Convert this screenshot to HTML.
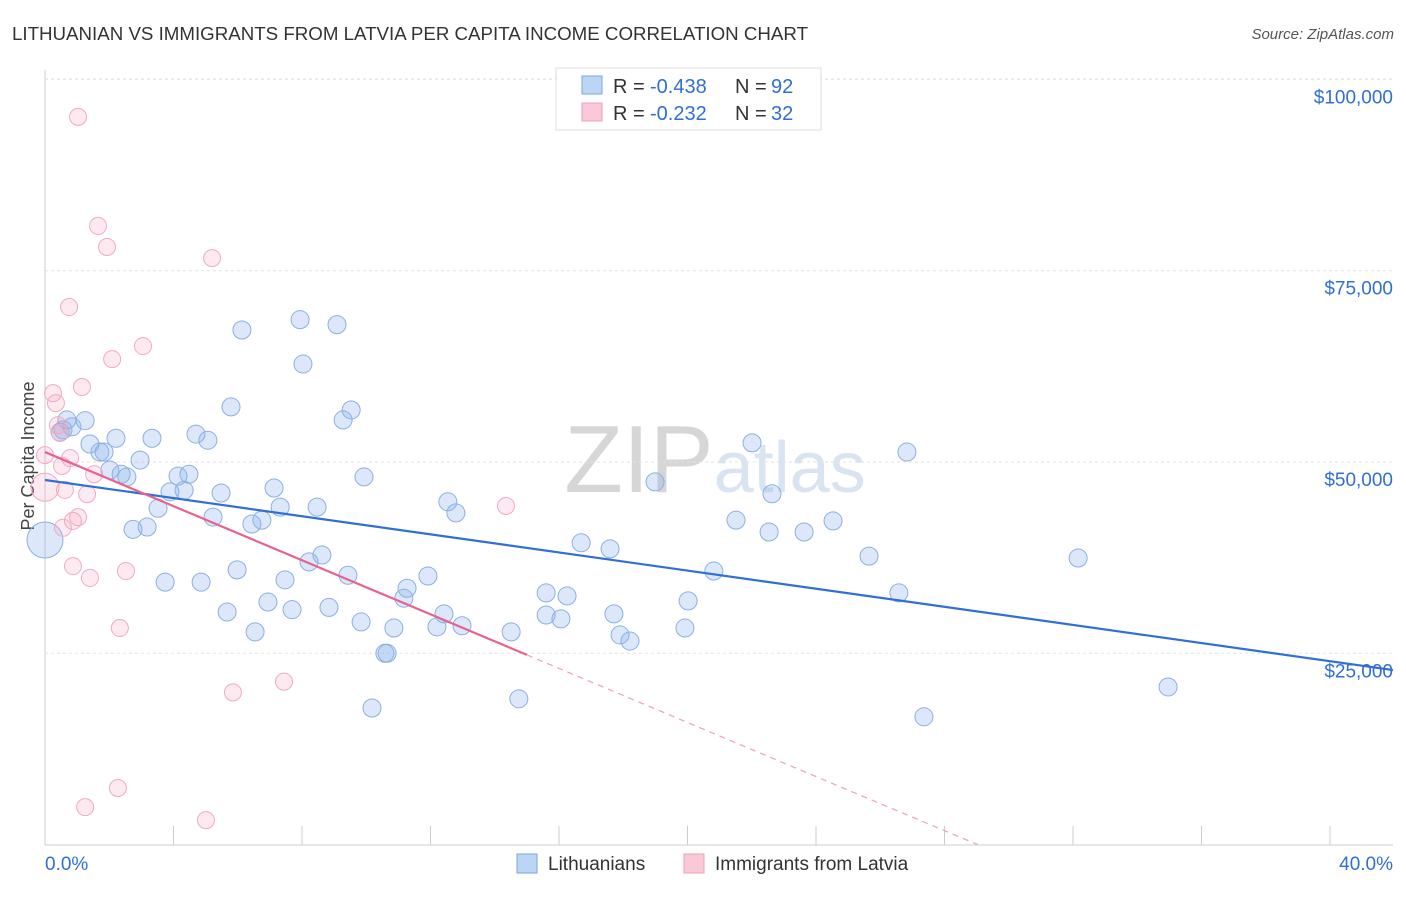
<!DOCTYPE html>
<html><head><meta charset="utf-8"><style>
body{margin:0;background:#fff;font-family:"Liberation Sans",sans-serif;}
svg text{font-family:"Liberation Sans",sans-serif;}
</style></head><body>
<svg id="c" width="1406" height="892">
<text x="12" y="40" font-size="18" fill="#333" textLength="796" lengthAdjust="spacingAndGlyphs">LITHUANIAN VS IMMIGRANTS FROM LATVIA PER CAPITA INCOME CORRELATION CHART</text>
<text x="1394" y="39" font-size="15" fill="#555" text-anchor="end" font-style="italic">Source: ZipAtlas.com</text>
<text x="34" y="456" font-size="18" fill="#444" text-anchor="middle" transform="rotate(-90 34 456)">Per Capita Income</text>
<text x="715" y="492" font-size="96" fill="#ddd" text-anchor="middle" font-family="Liberation Serif"><tspan fill="#d6d6d6">ZIP</tspan><tspan fill="#d8e4f2" font-family="Liberation Sans" font-size="72">atlas</tspan></text>
<g id="grid"></g><g id="pts"></g><g id="lines"></g>
<g>
<rect x="556" y="68" width="265" height="62" fill="#fff" stroke="#ddd"/>
<rect x="582" y="76" width="20" height="18" fill="#bcd5f5" stroke="#7aa6e0"/>
<text x="613" y="93" font-size="20" fill="#333">R =</text>
<text x="650" y="93" font-size="20" fill="#2f6fd6">-0.438</text>
<text x="735" y="93" font-size="20" fill="#333">N =</text>
<text x="771" y="93" font-size="20" fill="#2f6fd6">92</text>
<rect x="582" y="103" width="20" height="18" fill="#f9c9d7" stroke="#f0a0b8"/>
<text x="613" y="120" font-size="20" fill="#333">R =</text>
<text x="650" y="120" font-size="20" fill="#2f6fd6">-0.232</text>
<text x="735" y="120" font-size="20" fill="#333">N =</text>
<text x="771" y="120" font-size="20" fill="#2f6fd6">32</text>
</g>
<g>
<rect x="517" y="854" width="20" height="19" fill="#bcd5f5" stroke="#7aa6e0"/>
<text x="548" y="870" font-size="19" fill="#333">Lithuanians</text>
<rect x="684" y="854" width="20" height="19" fill="#f9c9d7" stroke="#f0a0b8"/>
<text x="715" y="870" font-size="19" fill="#333">Immigrants from Latvia</text>
</g>
</svg>
<script>
const yTicks=[25000,50000,75000,100000];
const yTickLabels=["$25,000","$50,000","$75,000","$100,000"];
const xTicks=[0,4,8,12,16,20,24,28,32,36,40];
const blueX=[0.68,0.56,1.25,0.84,0.47,1.40,2.21,1.71,1.84,2.55,2.02,2.37,2.96,3.33,2.74,3.18,3.74,3.52,4.14,3.89,4.33,4.48,4.70,5.07,4.86,5.23,5.48,5.67,5.79,5.98,6.13,6.54,6.44,6.75,6.94,7.13,7.32,7.47,7.69,7.94,8.03,8.22,8.47,8.62,8.84,9.09,9.28,9.53,9.43,9.84,9.93,10.18,10.58,10.65,10.86,11.17,11.27,11.92,12.20,12.42,12.54,12.79,12.98,14.51,14.75,15.60,15.60,16.06,16.25,16.69,17.59,17.71,17.90,18.21,18.99,19.92,20.02,20.82,21.51,22.01,22.54,22.63,23.63,24.53,25.65,26.58,26.83,27.36,32.16,34.96];
const blueY=[55500,54200,55400,54600,53900,52350,53100,51300,51300,48050,48950,48400,50250,53100,41200,41500,34300,43950,48150,46100,46300,48400,53650,52850,34300,42800,45950,30400,57200,35900,67250,27800,41900,42400,31700,46600,44100,34600,30700,68600,62800,36950,44100,37850,31000,67950,55500,56800,35200,29100,48050,17850,25000,25000,28300,32200,33500,35100,28450,30150,44800,43350,28600,27800,19050,32900,30000,29500,32500,39450,38650,30150,27400,26600,47400,28300,31850,35750,42400,52500,40850,45850,40850,42300,37700,32900,51300,16700,37450,20600];
const pinkX=[1.03,1.65,1.93,5.20,0.75,3.05,2.09,0.25,1.15,0.34,0.40,0.47,0,0.78,0.53,1.53,1.31,0.62,1.03,0.87,0.56,0.87,1.40,2.52,2.33,5.85,7.44,14.35,1.25,2.27,5.01];
const pinkY=[95100,80850,78100,76650,70250,65150,63450,59000,59800,57700,54800,53800,50900,50500,49500,48400,45800,46350,42800,42300,41400,36400,34850,35750,28300,19900,21300,44250,4900,7400,3200];
const blueFit=[47650,-592];
const pinkFit=[51300,-1767];
const X0=45,X1=1330,Y0=844.6,YS=191.3/25000;
const sx=v=>X0+(v/40)*(X1-X0), sy=v=>Y0-v*YS;
const NS="http://www.w3.org/2000/svg";
function mk(t,a,p){const e=document.createElementNS(NS,t);for(const k in a)e.setAttribute(k,a[k]);p.appendChild(e);return e;}
const g=document.getElementById('grid'),P=document.getElementById('pts'),L=document.getElementById('lines');
mk('line',{x1:45,y1:70,x2:45,y2:845,stroke:'#ccc'},g);
mk('line',{x1:45,y1:845,x2:1393,y2:845,stroke:'#ccc'},g);
mk('line',{x1:45,y1:79,x2:1393,y2:79,stroke:'#e2e2e2','stroke-dasharray':'3,3'},g);
yTicks.forEach((v,i)=>{
 const l=mk('line',{x1:45,y1:sy(v),x2:1393,y2:sy(v),stroke:'#e2e2e2','stroke-dasharray':'3,3'},g);
 
 
 const t=mk('text',{x:1393,y:sy(v)+24,'font-size':19,fill:'#2f6fd6','text-anchor':'end'},g);
 t.textContent=yTickLabels[i];
 
 
});
xTicks.forEach(v=>{const l=mk('line',{x1:sx(v),y1:826,x2:sx(v),y2:845,stroke:'#ccc'},g);
 
 });
const a=mk('text',{x:45,y:870,'font-size':19,fill:'#2f6fd6'},g);a.textContent='0.0%';


const b=mk('text',{x:1393,y:870,'font-size':19,fill:'#2f6fd6','text-anchor':'end'},g);b.textContent='40.0%';


function dot(x,y,r,f,s,n){const c=mk('circle',{cx:sx(x),cy:sy(y),r:r,fill:f,stroke:s,'stroke-width':1},P);
 
 }
blueX.forEach((x,i)=>dot(x,blueY[i],9,'rgba(140,180,235,0.3)','#8ab0e4','lithuanian-point'));
dot(0,39800,18,'rgba(140,180,235,0.3)','#8ab0e4','lithuanian-point');
pinkX.forEach((x,i)=>dot(x,pinkY[i],8.5,'rgba(245,160,190,0.22)','#f2aac0','latvia-point'));
dot(0,46700,14,'rgba(245,160,190,0.22)','#f2aac0','latvia-point');
const bl=mk('line',{x1:sx(0),y1:sy(blueFit[0]),x2:1393,y2:sy(blueFit[0]+blueFit[1]*((1393-X0)/(X1-X0)*40)),stroke:'#2f6fd6','stroke-width':2.2},L);


const pe=15,pz=-pinkFit[0]/pinkFit[1];
const pl=mk('line',{x1:sx(0),y1:sy(pinkFit[0]),x2:sx(pe),y2:sy(pinkFit[0]+pinkFit[1]*pe),stroke:'#e8628e','stroke-width':2.2},L);


const pd=mk('line',{x1:sx(pe),y1:sy(pinkFit[0]+pinkFit[1]*pe),x2:sx(pz),y2:sy(0),stroke:'#f0a0b8','stroke-width':1.2,'stroke-dasharray':'6,5'},L);


</script>
</body></html>
